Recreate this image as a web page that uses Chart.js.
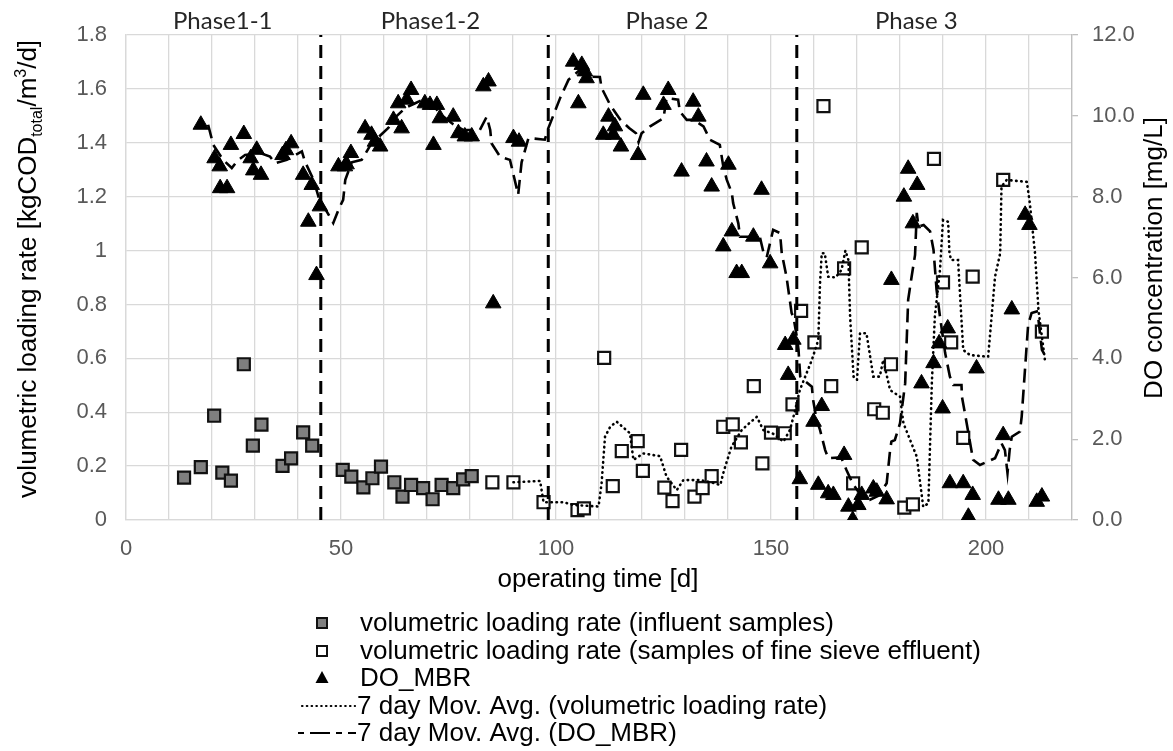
<!DOCTYPE html>
<html>
<head>
<meta charset="utf-8">
<script src="https://cdn.jsdelivr.net/npm/chart.js@4.4.0/dist/chart.umd.min.js"></script>
<style>html,body{margin:0;padding:0;background:#fff;}canvas{display:block;}</style>
</head>
<body>
<canvas id="c" width="1173" height="751"></canvas>
<script>
// ---------- data ----------
const influentDays = [13.5,17.4,20.5,22.4,24.4,27.4,29.5,31.5,36.4,38.4,41.2,43.3,50.4,52.4,55.2,57.3,59.3,62.4,64.3,66.3,69.1,71.3,73.4,76.1,78.4,80.4];
const influentVLR  = [0.157,0.196,0.387,0.176,0.146,0.578,0.276,0.354,0.201,0.229,0.325,0.276,0.186,0.161,0.121,0.155,0.198,0.140,0.087,0.130,0.118,0.077,0.130,0.118,0.151,0.163];

const effluentDays = [85.2,90.1,97.1,105,106.5,111.2,113.2,115.3,119,120.2,125.2,127.1,129.1,132.2,134.1,136.2,138.9,141.1,143,146,148,150,153.2,155,157,160.1,162.2,164,167,169.1,171.1,174,176,177.9,181,183,187.9,190,191.9,194.7,196.9,204,213];
const effluentVLR  = [0.140,0.140,0.066,0.037,0.043,0.602,0.126,0.256,0.293,0.182,0.120,0.070,0.260,0.087,0.118,0.163,0.346,0.355,0.288,0.497,0.210,0.324,0.322,0.429,0.776,0.659,1.536,0.497,0.934,0.136,1.012,0.411,0.398,0.578,0.046,0.058,1.340,0.882,0.659,0.305,0.903,1.262,0.699];

const doDays = [17.4,20.6,21.8,21.9,23.5,24.4,27.4,29.0,29.6,30.4,31.4,36.4,37.2,38.4,41.2,42.4,43.2,44.3,45.1,49.4,50.9,51.3,52.3,
  55.6,57.1,57.9,59.1,62.2,63.3,64.1,65.3,66.3,69.5,70.7,71.5,72.3,73.0,76.1,77.3,78.8,80.4,83.1,84.3,85.4,90.1,91.4,
  104.0,105.2,106.0,106.7,107.1,111.0,112.2,113.3,113.7,115.1,119.1,120.3,125.0,126.1,129.2,131.9,133.1,135.0,136.2,138.9,140.1,140.9,142.0,143.2,145.9,147.8,149.8,153.3,154.0,155.2,
  156.7,159.9,161.0,161.8,163.3,164.5,167.0,168.0,169.0,170.3,171.1,173.8,174.6,176.9,178.0,180.9,181.9,183.0,184.0,185.0,187.8,189.1,189.9,191.1,191.6,194.7,195.9,196.9,197.8,202.9,204.0,205.2,206.0,209.1,210.1,211.8,213.0];
const doMBR = [9.78,8.95,8.75,8.21,8.21,9.28,9.55,8.95,8.65,9.16,8.54,9.03,9.15,9.32,8.54,7.38,8.29,6.06,7.76,8.75,8.75,8.80,9.08,
  9.69,9.53,9.36,9.24,9.90,10.31,9.69,10.40,10.64,10.31,10.27,9.28,10.27,9.94,9.98,9.57,9.49,9.49,10.73,10.85,5.36,9.45,9.36,
  11.34,10.31,11.26,11.10,10.93,9.53,9.98,9.53,9.74,9.24,9.03,10.52,10.27,10.64,8.62,10.35,9.98,8.87,8.25,6.77,8.79,7.14,6.11,6.11,7.01,8.17,6.35,4.33,3.59,4.46,
  1.01,2.43,0.87,2.82,0.66,0.62,1.61,0.33,0.00,0.37,0.62,0.78,0.70,0.51,5.94,8.00,8.69,7.34,8.29,3.38,3.88,4.37,2.76,4.74,0.91,0.91,0.08,0.62,3.75,0.50,2.10,0.50,5.21,7.55,7.30,0.45,0.58];

const maVlrDays = [90.1,96.3,97.1,101.7,104,109.9,110.6,111.4,112.6,114.1,117.2,118,120.3,124.2,125.7,128.1,129.6,133.5,136,138.2,139,140.8,143.2,145,146.7,148.2,150.5,152.9,154.4,155.5,156.7,159.5,161,161.4,161.8,162.5,163.3,165,166.4,167.3,168,168.4,169.2,170,170.7,172.2,173.8,175.3,176.1,177.7,180,180.8,183.9,184.7,185.4,186.6,187.4,188.1,189.3,190,191.2,191.5,191.9,193.5,193.9,194.7,196.3,200.5,201.3,202.1,203.3,203.6,204.8,209.5,210.2,211.4,212.2,213.7];
const maVlr     = [0.140,0.145,0.066,0.066,0.056,0.050,0.136,0.309,0.346,0.365,0.322,0.223,0.247,0.237,0.161,0.111,0.148,0.148,0.140,0.130,0.180,0.272,0.334,0.360,0.383,0.334,0.320,0.291,0.334,0.400,0.482,0.594,0.668,0.878,0.990,0.990,0.903,0.900,0.928,1.000,0.965,0.754,0.532,0.520,0.693,0.693,0.532,0.532,0.594,0.482,0.458,0.359,0.235,0.136,0.049,0.062,0.507,0.754,0.928,1.113,1.107,0.990,0.965,0.965,0.853,0.631,0.612,0.606,0.754,0.903,0.990,1.237,1.262,1.255,1.175,0.990,0.779,0.594];

const maDoDays = [19.1,20.3,22.6,24.6,26,27.7,31.2,33.5,34.7,37.4,40.9,41.6,43.6,45.1,46.7,48.2,49.5,50.5,51.0,52.5,54.8,57,59,61,63,65,67,69,71,73.8,76,78.4,82.3,83.9,84.7,85,87,89.3,91.2,92,93.6,97.4,98.2,101,102.9,105.6,107.5,110.2,110.6,112.6,115,117,118.6,119.2,119.9,121.9,125,125.7,128.4,128.8,130.4,132,134.3,135.8,138.1,138.9,139.7,140.9,141.2,142.4,142.8,147.4,148.2,149,150.5,152.1,152.5,153.6,154.8,155.2,156,156.4,156.8,157.1,159.5,159.8,160.6,161.4,162.6,163.3,166.3,167.5,169,171,173,175,176.9,177.7,178,178.8,180,181.2,181.9,182.7,183.5,183.9,184.3,185.5,187,187.8,188.5,189.3,190.5,191.6,192.4,194.3,194.4,195.1,197,198.6,202.1,203.6,204.4,205,205.5,206,207.9,208.3,209.8,210.6,211.8,212.2,213,213.8];
const maDo     = [9.78,9.28,8.91,8.71,8.90,9.03,9.08,8.99,8.83,8.91,9.12,8.87,8.42,7.88,7.63,7.35,7.70,7.92,8.42,8.85,8.91,9.30,9.50,9.70,10.00,10.20,10.30,10.40,10.30,9.98,9.80,9.65,9.65,9.98,9.65,9.32,8.99,8.91,8.05,8.85,9.45,9.41,9.69,10.45,10.89,11.14,10.97,10.96,10.69,10.27,9.90,9.70,9.57,9.35,9.57,9.74,9.94,10.44,10.40,10.11,9.90,9.90,9.74,9.41,9.28,8.75,8.42,8.09,7.84,7.34,7.01,7.01,6.64,6.50,7.18,7.10,6.60,6.02,5.12,5.03,4.54,4.21,3.55,3.51,3.30,2.97,2.48,2.23,1.73,1.53,1.55,1.25,0.90,0.60,0.50,0.60,0.91,1.73,1.94,1.98,2.39,3.38,5.45,6.02,6.56,7.60,7.26,7.30,7.14,6.68,5.70,5.03,4.13,3.55,3.34,3.34,3.05,2.64,1.49,1.36,1.53,1.90,1.73,1.16,1.73,2.06,2.19,2.56,4.83,5.12,5.16,4.95,4.21,4.06];

const phaseBoundaries = [45.3, 98.2, 156];
const phaseLabels = ['Phase1-1', 'Phase1-2', 'Phase 2', 'Phase 3'];
const phaseLabelDays = [22.5, 70.8, 125.8, 183.8];

const xTickLabels = [0, 50, 100, 150, 200];
const yLeftTickLabels = ['0','0.2','0.4','0.6','0.8','1','1.2','1.4','1.6','1.8'];
const yRightTickLabels = ['0.0','2.0','4.0','6.0','8.0','10.0','12.0'];

const legendLabels = [
  'volumetric loading rate (influent samples)',
  'volumetric loading rate (samples of fine sieve effluent)',
  'DO_MBR',
  '7 day Mov. Avg. (volumetric loading rate)',
  '7 day Mov. Avg. (DO_MBR)'
];

// ---------- helpers ----------
const pts = (xs, ys) => xs.map((x, i) => ({x: x, y: ys[i]}));
const SANS = '"Liberation Sans", Arial, sans-serif';

const datasets = [];
phaseBoundaries.forEach(b => datasets.push({
  label: 'phase', data: [{x: b, y: 0}, {x: b, y: 1.8}], yAxisID: 'y',
  showLine: true, pointRadius: 0, borderColor: '#000', borderWidth: 3, borderDash: [13, 8], order: 0
}));
datasets.push({label: legendLabels[3], data: pts(maVlrDays, maVlr), yAxisID: 'y', showLine: true, pointRadius: 0,
  borderColor: '#000', borderWidth: 2.6, borderDash: [0.5, 4.6], borderCapStyle: 'round', tension: 0, order: 1});
datasets.push({label: legendLabels[4], data: pts(maDoDays, maDo), yAxisID: 'y2', showLine: true, pointRadius: 0,
  borderColor: '#000', borderWidth: 2.6, borderDash: [14, 7], tension: 0, order: 1});
datasets.push({label: legendLabels[2], data: pts(doDays, doMBR), yAxisID: 'y2', pointStyle: 'triangle', pointRadius: 9,
  backgroundColor: '#000', borderColor: '#000', borderWidth: 1, order: 2});
datasets.push({label: legendLabels[1], data: pts(effluentDays, effluentVLR), yAxisID: 'y', pointStyle: 'rect', pointRadius: 8.5,
  backgroundColor: '#fff', borderColor: '#111', borderWidth: 2.2, order: 3});
datasets.push({label: legendLabels[0], data: pts(influentDays, influentVLR), yAxisID: 'y', pointStyle: 'rect', pointRadius: 8.5,
  backgroundColor: '#7f7f7f', borderColor: '#111', borderWidth: 2.2, order: 4});

const annot = {
  id: 'annot',
  afterDraw(chart) {
    const ctx = chart.ctx, xs = chart.scales.x;
    ctx.save();
    // phase labels
    ctx.fillStyle = '#262626';
    ctx.font = '24px Lato, "Open Sans", sans-serif';
    ctx.textAlign = 'center'; ctx.textBaseline = 'middle';
    phaseLabels.forEach((t, i) => ctx.fillText(t, xs.getPixelForValue(phaseLabelDays[i]), 21));

    // x title
    ctx.fillStyle = '#000';
    ctx.font = '26px ' + SANS;
    ctx.fillText('operating time [d]', 598, 580);

    // right title
    ctx.save();
    ctx.translate(1155, 258); ctx.rotate(-Math.PI / 2);
    ctx.textAlign = 'center'; ctx.textBaseline = 'middle';
    ctx.fillText('DO concentration [mg/L]', 0, 0);
    ctx.restore();

    // left title (with subscript / superscript)
    const fs = 26, small = 16;
    const segs = [
      {t: 'volumetric loading rate [kgCOD', f: fs, dy: 0},
      {t: 'total', f: small, dy: 6},
      {t: '/m', f: fs, dy: 0},
      {t: '3', f: small, dy: -10},
      {t: '/d]', f: fs, dy: 0}
    ];
    let tot = 0;
    segs.forEach(s => { ctx.font = s.f + 'px ' + SANS; s.w = ctx.measureText(s.t).width; tot += s.w; });
    ctx.save();
    ctx.translate(27, 269); ctx.rotate(-Math.PI / 2);
    ctx.textAlign = 'left'; ctx.textBaseline = 'alphabetic';
    let cx = -tot / 2;
    segs.forEach(s => { ctx.font = s.f + 'px ' + SANS; ctx.fillText(s.t, cx, 9 + s.dy); cx += s.w; });
    ctx.restore();

    // legend
    const rowY = [623, 651, 678, 706, 733];
    const mx = 322, tx = 360;
    ctx.font = '26px ' + SANS; ctx.textAlign = 'left'; ctx.textBaseline = 'middle'; ctx.fillStyle = '#000';
    legendLabels.forEach((t, i) => ctx.fillText(t, i < 3 ? tx : 357, rowY[i] + 1));
    // markers
    ctx.lineWidth = 2; ctx.strokeStyle = '#111';
    ctx.fillStyle = '#7f7f7f'; ctx.fillRect(mx - 5, rowY[0] - 5, 10, 10); ctx.strokeRect(mx - 5, rowY[0] - 5, 10, 10);
    ctx.fillStyle = '#fff'; ctx.fillRect(mx - 5, rowY[1] - 5, 10, 10); ctx.strokeRect(mx - 5, rowY[1] - 5, 10, 10);
    ctx.fillStyle = '#000'; ctx.beginPath();
    ctx.moveTo(mx, rowY[2] - 7); ctx.lineTo(mx + 6.5, rowY[2] + 5); ctx.lineTo(mx - 6.5, rowY[2] + 5); ctx.closePath(); ctx.fill();
    ctx.strokeStyle = '#000'; ctx.lineWidth = 2.2;
    ctx.lineCap = 'round'; ctx.setLineDash([0.5, 4.3]);
    ctx.beginPath(); ctx.moveTo(302, rowY[3]); ctx.lineTo(355, rowY[3]); ctx.stroke();
    ctx.lineCap = 'butt'; ctx.setLineDash([6, 6, 20, 6]);
    ctx.beginPath(); ctx.moveTo(298, rowY[4]); ctx.lineTo(356, rowY[4]); ctx.stroke();
    ctx.restore();
  }
};

new Chart(document.getElementById('c'), {
  type: 'scatter',
  data: {datasets: datasets},
  options: {
    responsive: false, animation: false, devicePixelRatio: 1,
    layout: {padding: {top: 35, left: 0, right: 0, bottom: 0}},
    plugins: {legend: {display: false}, tooltip: {enabled: false}},
    scales: {
      x: {
        type: 'linear', min: 0, max: 220,
        ticks: {stepSize: 10, autoSkip: false, maxRotation: 0, padding: 16, color: '#595959',
          font: {family: SANS, size: 22},
          callback: v => xTickLabels.includes(v) ? String(v) : ''},
        grid: {color: '#d9d9d9', lineWidth: 1.3, drawTicks: false},
        border: {color: '#d9d9d9', width: 1.3},
        afterFit: s => { s.height = 231; }
      },
      y: {
        type: 'linear', position: 'left', min: 0, max: 1.8,
        ticks: {stepSize: 0.2, padding: 19, color: '#595959', font: {family: SANS, size: 22},
          callback: (v, i) => yLeftTickLabels[i]},
        grid: {color: '#d9d9d9', lineWidth: 1.3, drawTicks: false},
        border: {color: '#d9d9d9', width: 1.3},
        afterFit: s => { s.width = 126; }
      },
      y2: {
        type: 'linear', position: 'right', min: 0, max: 12,
        ticks: {stepSize: 2, padding: 14, color: '#595959', font: {family: SANS, size: 22},
          callback: (v, i) => yRightTickLabels[i]},
        grid: {drawOnChartArea: false, drawTicks: true, tickLength: 6, color: '#bfbfbf', lineWidth: 1.3},
        border: {color: '#bfbfbf', width: 1.3},
        afterFit: s => { s.width = 101; }
      }
    }
  },
  plugins: [annot]
});
</script>
</body>
</html>
